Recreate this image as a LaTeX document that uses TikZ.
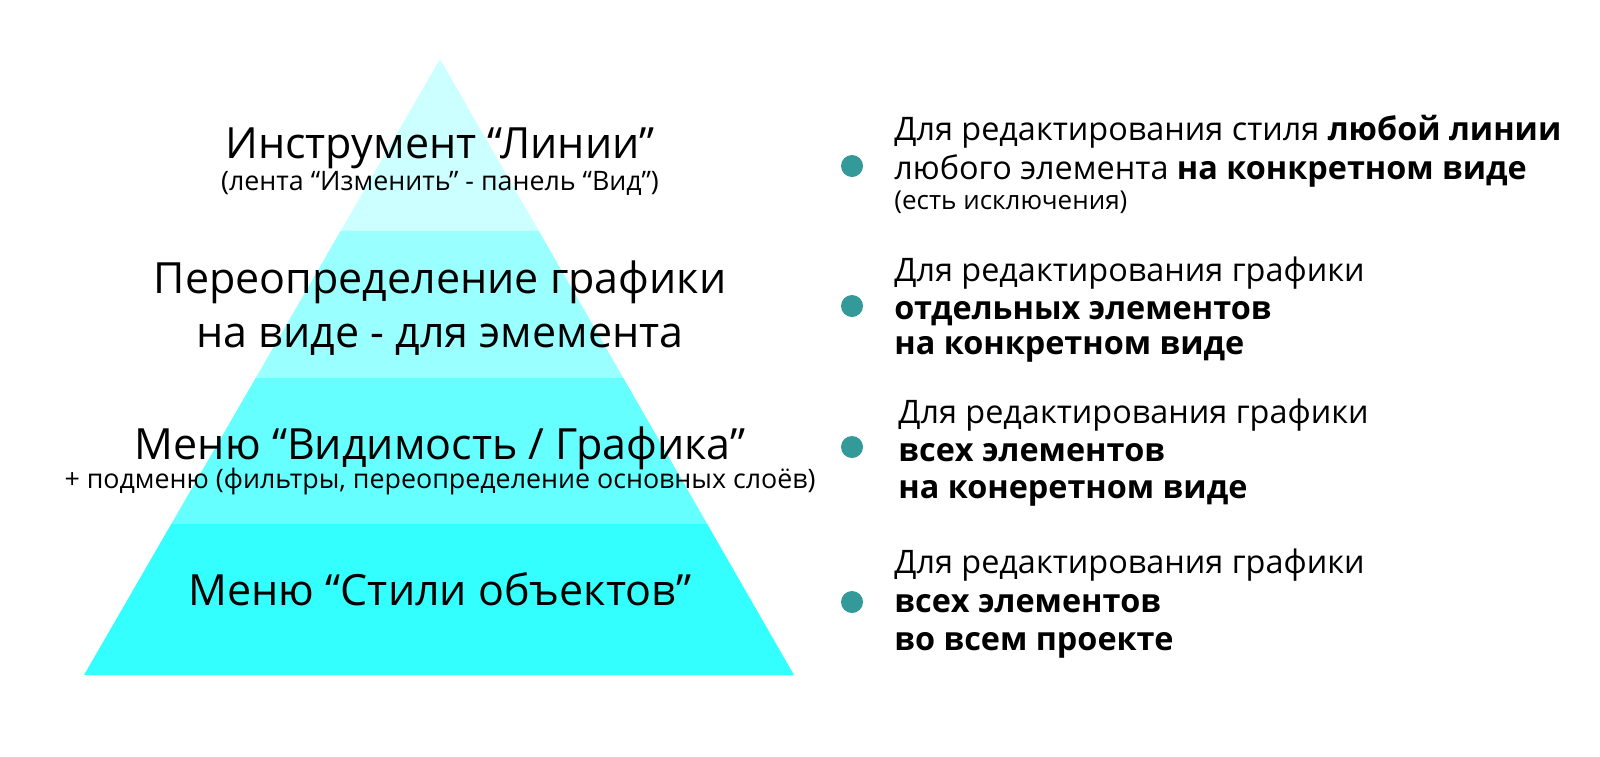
\documentclass[tikz,border=0pt]{standalone}
\usepackage{fontspec}
\setmainfont{Open Sans}
\usetikzlibrary{calc}

\definecolor{lvlA}{HTML}{CCFFFF}
\definecolor{lvlB}{HTML}{99FFFF}
\definecolor{lvlC}{HTML}{66FFFF}
\definecolor{lvlD}{HTML}{33FFFF}
\definecolor{dotcol}{HTML}{339999}

\begin{document}
\begin{tikzpicture}[x=0.5pt, y=-0.5pt, every node/.style={inner sep=0pt, anchor=base}]
\tikzset{
  bigtxt/.style={font=\fontsize{21.5}{26}\selectfont},
  subtxt/.style={font=\fontsize{13.4}{16}\selectfont},
  desc/.style={anchor=base west, font=\fontsize{16.2}{20}\selectfont},
  note/.style={anchor=base west, font=\fontsize{13}{15}\selectfont},
  bullet/.style={circle, fill=dotcol, minimum size=11pt, anchor=center}
}
\useasboundingbox (0,0) rectangle (1600,756);
% pyramid
\coordinate (apex) at (440,59);
\coordinate (bl) at (84,675);
\coordinate (br) at (794,675);
\foreach \ta/\tb/\col in {0/0.2792/lvlA, 0.2792/0.5179/lvlB, 0.5179/0.7549/lvlC, 0.7549/1/lvlD}
  \fill[\col] ($(apex)!\ta!(bl)$) -- ($(apex)!\tb!(bl)$) -- ($(apex)!\tb!(br)$) -- ($(apex)!\ta!(br)$) -- cycle;
% levels
\node[bigtxt] (lines) at (440,158) {Инструмент “Линии”};
\node[subtxt] (linessub) at (440,190) {(лента “Изменить” - панель “Вид”)};
\node[bigtxt] (overA) at (440,293) {Переопределение графики};
\node[bigtxt] (overB) at (440,347) {на виде - для эмемента};
\node[bigtxt] (visgr) at (440,459) {Меню “Видимость / Графика”};
\node[subtxt] (visgrsub) at (440,488) {+ подменю (фильтры, переопределение основных слоёв)};
\node[bigtxt] (objst) at (440,605) {Меню “Стили объектов”};
% descriptions
\node[bullet] (dotA) at (852,166) {};
\node[desc] (descA1) at (894,140) {Для редактирования стиля \textbf{любой линии}};
\node[desc] (descA2) at (894,179) {любого элемента \textbf{на конкретном виде}};
\node[note] (descA3) at (894,209) {(есть исключения)};
\node[bullet] (dotB) at (852,306) {};
\node[desc] (descB1) at (894,281) {Для редактирования графики};
\node[desc] (descB2) at (894,319) {\textbf{отдельных элементов}};
\node[desc] (descB3) at (894,354) {\textbf{на конкретном виде}};
\node[bullet] (dotC) at (852,447) {};
\node[desc] (descC1) at (898,423) {Для редактирования графики};
\node[desc] (descC2) at (898,461) {\textbf{всех элементов}};
\node[desc] (descC3) at (898,498) {\textbf{на конеретном виде}};
\node[bullet] (dotD) at (852,602) {};
\node[desc] (descD1) at (894,573) {Для редактирования графики};
\node[desc] (descD2) at (894,612) {\textbf{всех элементов}};
\node[desc] (descD3) at (894,650) {\textbf{во всем проекте}};
\end{tikzpicture}
\end{document}
